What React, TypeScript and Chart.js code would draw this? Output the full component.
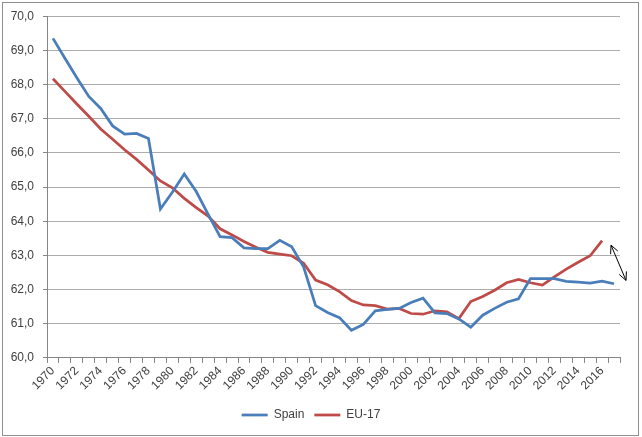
import React, { useEffect, useRef } from "react";
import { Chart, registerables } from "chart.js";

Chart.register(...registerables);

const years: string[] = [
  "1970", "1971", "1972", "1973", "1974", "1975", "1976", "1977", "1978", "1979",
  "1980", "1981", "1982", "1983", "1984", "1985", "1986", "1987", "1988", "1989",
  "1990", "1991", "1992", "1993", "1994", "1995", "1996", "1997", "1998", "1999",
  "2000", "2001", "2002", "2003", "2004", "2005", "2006", "2007", "2008", "2009",
  "2010", "2011", "2012", "2013", "2014", "2015", "2016", "2017",
];

const spain: number[] = [
  69.35, 68.77, 68.2, 67.65, 67.3, 66.79, 66.55, 66.57, 66.42, 64.36,
  64.85, 65.38, 64.87, 64.2, 63.55, 63.52, 63.22, 63.2, 63.2, 63.44,
  63.25, 62.66, 61.53, 61.33, 61.18, 60.81, 60.98, 61.38, 61.42, 61.45,
  61.62, 61.75, 61.32, 61.3, 61.14, 60.9, 61.25, 61.45, 61.63, 61.73,
  62.32, 62.32, 62.32, 62.24, 62.22, 62.19, 62.25, 62.17,
];

const eu17: (number | null)[] = [
  68.17, 67.8, 67.43, 67.07, 66.7, 66.4, 66.09, 65.81, 65.5, 65.18,
  64.98, 64.67, 64.4, 64.15, 63.78, 63.6, 63.41, 63.24, 63.09, 63.04,
  62.99, 62.77, 62.28, 62.14, 61.94, 61.68, 61.55, 61.53, 61.43, 61.45,
  61.3, 61.28, 61.38, 61.35, 61.15, 61.65, 61.8, 61.98, 62.2, 62.3,
  62.2, 62.13, 62.37, 62.6, 62.8, 62.99, 63.43, null,
];

const yMin = 60;
const yMax = 70;
const yStep = 1;

// gap arrow (between the two series' ends)
const arrowTopValue = 63.3;
const arrowBottomValue = 62.27;

const FONT = "'Liberation Sans', Arial, sans-serif";
const TEXT = "#404040";

const decorPlugin = {
  id: "decor",
  afterDraw(chart: any) {
    const ctx = chart.ctx;
    const { chartArea } = chart;
    const ys = chart.scales.y;
    const xs = chart.scales.x;
    ctx.save();
    // outer frame
    ctx.strokeStyle = "#8f8f8f";
    ctx.lineWidth = 1;
    ctx.strokeRect(2.5, 2.5, chart.width - 6, chart.height - 4);
    // double-headed arrow
    const x1 = xs.getPixelForValue(years.length - 1) - 3;
    const y1 = ys.getPixelForValue(arrowTopValue);
    const x2 = chartArea.right + 6;
    const y2 = ys.getPixelForValue(arrowBottomValue);
    ctx.strokeStyle = "#000";
    ctx.lineWidth = 1;
    ctx.beginPath();
    ctx.moveTo(x1, y1);
    ctx.lineTo(x2, y2);
    const ang = Math.atan2(y2 - y1, x2 - x1);
    const hl = 9;
    const spread = 0.45;
    const head = (px: number, py: number, a: number) => {
      ctx.moveTo(px + hl * Math.cos(a + spread), py + hl * Math.sin(a + spread));
      ctx.lineTo(px, py);
      ctx.lineTo(px + hl * Math.cos(a - spread), py + hl * Math.sin(a - spread));
    };
    head(x1, y1, ang);
    head(x2, y2, ang + Math.PI);
    ctx.stroke();
    ctx.restore();
  },
};

export default function App() {
  const ref = useRef<HTMLCanvasElement>(null);

  useEffect(() => {
    document.body.style.margin = "0";
    const canvas = ref.current!;
    const chart = new Chart(canvas, {
      type: "line",
      data: {
        labels: years,
        datasets: [
          {
            label: "Spain",
            data: spain,
            borderColor: "#4a7ebb",
            backgroundColor: "#4a7ebb",
            borderWidth: 2.75,
            pointRadius: 0,
            tension: 0,
          },
          {
            label: "EU-17",
            data: eu17,
            borderColor: "#be4b48",
            backgroundColor: "#be4b48",
            borderWidth: 2.75,
            pointRadius: 0,
            tension: 0,
          },
        ],
      },
      options: {
        responsive: false,
        animation: false,
        devicePixelRatio: 1,
        layout: { padding: { left: 2, top: 16, right: 22, bottom: 6 } },
        plugins: {
          tooltip: { enabled: false },
          legend: {
            position: "bottom",
            labels: {
              usePointStyle: true,
              pointStyle: "line",
              pointStyleWidth: 26,
              padding: 10,
              color: TEXT,
              font: { family: FONT, size: 12 },
            },
          },
        },
        scales: {
          x: {
            offset: true,
            afterFit: (s: any) => {
              s.height = s.height + 5;
            },
            grid: {
              offset: true,
              drawOnChartArea: false,
              drawTicks: true,
              tickLength: 5,
              color: "#868686",
            },
            border: { color: "#868686" },
            ticks: {
              autoSkip: false,
              maxRotation: 45,
              minRotation: 45,
              padding: 1,
              color: TEXT,
              font: { family: FONT, size: 12 },
              callback: (_v: any, i: number) => (i % 2 === 0 ? years[i] : ""),
            },
          },
          y: {
            min: yMin,
            max: yMax,
            afterFit: (s: any) => {
              s.width = 45;
            },
            grid: {
              color: "#acacac",
              tickLength: 4,
              tickColor: "#868686",
            },
            border: { color: "#868686" },
            ticks: {
              stepSize: yStep,
              padding: 9,
              color: TEXT,
              font: { family: FONT, size: 12 },
              callback: (v: any) => Number(v).toFixed(1).replace(".", ","),
            },
          },
        },
      },
      plugins: [decorPlugin],
    } as any);
    return () => chart.destroy();
  }, []);

  return (
    <div style={{ position: "absolute", left: 0, top: 0, width: 642, height: 437 }}>
      <canvas ref={ref} width={642} height={437} />
    </div>
  );
}
